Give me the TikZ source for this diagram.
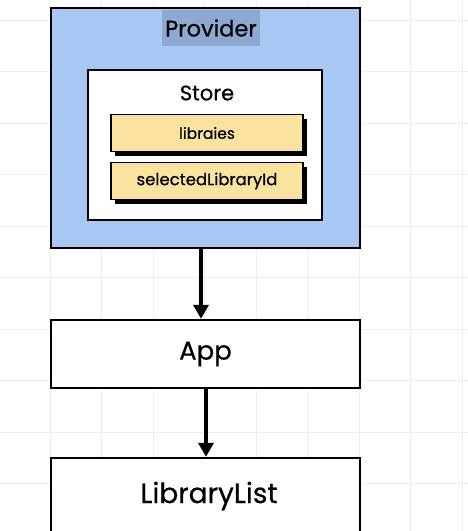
\documentclass[tikz,border=0pt]{standalone}
\usepackage{fontspec}
\setmainfont{Poppins}[FakeBold=0.5]
\usetikzlibrary{arrows.meta,shadows}

\definecolor{providerblue}{RGB}{166,200,242}
\definecolor{selblue}{RGB}{142,168,210}
\definecolor{itemyellow}{RGB}{250,226,160}
\definecolor{gridgray}{RGB}{238,238,238}

\tikzset{
  sketchbox/.style={draw=black,line width=2.4pt,inner sep=0pt},
  itembox/.style={draw=black,line width=1.6pt,fill=itemyellow,minimum width=192,minimum height=37,
    inner sep=0pt,
    drop shadow={shadow xshift=4pt,shadow yshift=-4pt,opacity=1,fill=black}},
  flow/.style={line width=3.4pt,-{Triangle[length=14pt,width=15pt]}}
}

\begin{document}
\begin{tikzpicture}[x=1pt,y=1pt,yscale=-1,xscale=1]
\useasboundingbox (0,0) rectangle (468,531);
\clip (0,0) rectangle (468,531);

%Background
\fill [white] (0,0) rectangle (468,531);
\foreach \gx in {-1.5,50,...,470} {\draw [gridgray,line width=0.8pt] (\gx,0) -- (\gx,531);}
\foreach \gy in {20,71.5,...,540} {\draw [gridgray,line width=0.8pt] (0,\gy) -- (468,\gy);}

%Shape: Provider
\node [sketchbox,fill=providerblue,minimum width=309,minimum height=240] (provider) at (205.5,128) {};
% Text Node
\node [fill=selblue,minimum width=98,minimum height=36,inner sep=0pt,font=\fontsize{22.5}{26}\selectfont] (providerlabel) at (211,28) {Provider};

%Shape: Store
\node [sketchbox,line width=2.8pt,fill=white,minimum width=234,minimum height=150] (store) at (205,145) {};
% Text Node
\node [font=\fontsize{21}{24}\selectfont] (storelabel) at (207,93) {Store};

%Shape: items
\node [itembox,font=\fontsize{15.5}{18}\selectfont] (libraries) at (207,133) {libraies};
\node [itembox,font=\fontsize{16.5}{19}\selectfont] (selected) at (207,181) {selectedLibraryId};

%Shape: App
\node [sketchbox,fill=white,minimum width=309,minimum height=68,font=\fontsize{26}{30}\selectfont] (app) at (205.5,354) {App};

%Shape: LibraryList
\node [sketchbox,fill=white,minimum width=309,minimum height=84] (librarylist) at (205.5,500) {};
\node [font=\fontsize{28}{32}\selectfont] (librarylabel) at (209,496) {LibraryList};

%Straight Lines
\draw [flow] ([xshift=-4.5pt]provider.south) -- ([xshift=-4.5pt]app.north);
\draw [flow] ([xshift=0.5pt]app.south) -- ([xshift=0.5pt]librarylist.north);

\end{tikzpicture}
\end{document}
